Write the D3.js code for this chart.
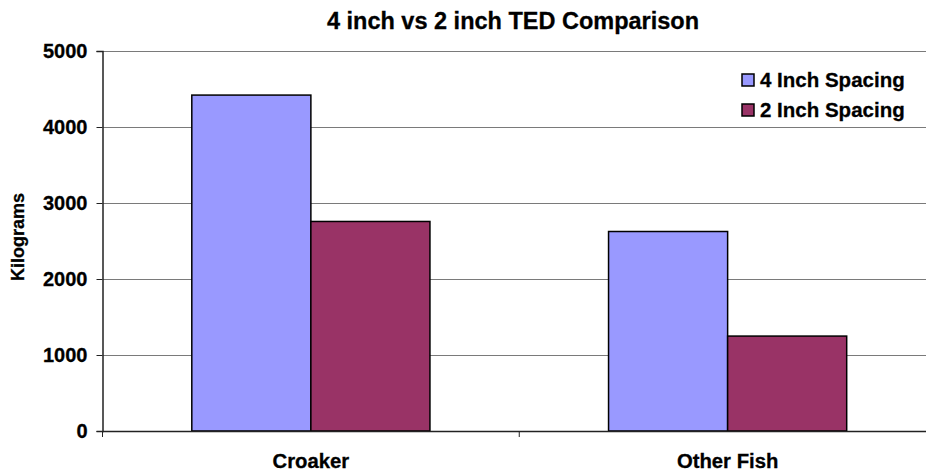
<!DOCTYPE html>
<html>
<head>
<meta charset="utf-8">
<script src="https://cdn.jsdelivr.net/npm/d3@7"></script>
<style>
  body { margin: 0; background: #fff; }
  svg { display: block; font-family: Arial, "Liberation Sans", sans-serif; font-weight: bold; }
  text { stroke: #000; stroke-width: 0.3px; }
</style>
</head>
<body>
<svg id="chart" width="926" height="472"></svg>
<script>
// chart data
const categories = ["Croaker", "Other Fish"];
const seriesNames = ["4 Inch Spacing", "2 Inch Spacing"];
const spacing4 = [4420, 2625];
const spacing2 = [2757, 1249];
const yTicks = [0, 1000, 2000, 3000, 4000, 5000];
const colors = ["#9999FF", "#993366"];

const svg = d3.select("#chart");

// plot area (right edge runs past the picture, like the original)
const plotLeft = 102.5, plotRight = 936, plotTop = 51, plotBottom = 431;

const x = d3.scaleBand().domain(categories).range([plotLeft, plotRight]).padding(0);
const xs = d3.scaleBand().domain(seriesNames).range([0, x.bandwidth()])
    .paddingInner(0).paddingOuter(0.75);
const y = d3.scaleLinear().domain([0, 5000]).range([plotBottom, plotTop]);

// gridlines
svg.append("g")
    .selectAll("line")
    .data(yTicks.filter(d => d > 0))
    .enter().append("line")
    .attr("x1", plotLeft).attr("x2", plotRight)
    .attr("y1", d => y(d)).attr("y2", d => y(d))
    .attr("stroke", "#7a7a7a")
    .attr("stroke-width", 1)
    .attr("shape-rendering", "crispEdges");

// bars
const rows = categories.map((c, i) => ({ cat: c, values: [spacing4[i], spacing2[i]] }));
svg.append("g")
    .selectAll("g")
    .data(rows)
    .enter().append("g")
    .attr("transform", d => `translate(${x(d.cat)},0)`)
    .selectAll("rect")
    .data(d => d.values.map((v, k) => ({ name: seriesNames[k], value: v, k: k })))
    .enter().append("rect")
    .attr("x", d => xs(d.name))
    .attr("width", xs.bandwidth())
    .attr("y", d => y(d.value))
    .attr("height", d => y(0) - y(d.value))
    .attr("fill", d => colors[d.k])
    .attr("stroke", "#000")
    .attr("stroke-width", 1.5);

// y axis
const yAxis = d3.axisLeft(y).tickValues(yTicks).tickSize(6).tickPadding(9).tickFormat(d3.format("d"));
const gy = svg.append("g").attr("transform", `translate(${plotLeft},0)`).call(yAxis);
gy.select(".domain").attr("stroke", "#222").attr("stroke-width", 1.5);
gy.selectAll(".tick line").attr("stroke", "#222");
gy.selectAll(".tick text")
    .attr("font-size", 20)
    .attr("font-family", "Arial, 'Liberation Sans', sans-serif")
    .attr("font-weight", "bold")
    .attr("fill", "#000");

// x axis
const xAxis = d3.axisBottom(x).tickSize(0).tickPadding(0).tickSizeOuter(0);
const gx = svg.append("g").attr("transform", `translate(0,${plotBottom})`).call(xAxis);
gx.select(".domain").attr("stroke", "#222").attr("stroke-width", 1.5);
gx.selectAll(".tick text")
    .attr("y", 37)
    .attr("dy", 0)
    .attr("font-size", 20.3)
    .attr("font-family", "Arial, 'Liberation Sans', sans-serif")
    .attr("font-weight", "bold")
    .attr("fill", "#000");

// category boundary ticks
svg.append("g")
    .selectAll("line")
    .data(categories)
    .enter().append("line")
    .attr("x1", d => x(d)).attr("x2", d => x(d))
    .attr("y1", plotBottom).attr("y2", plotBottom + 6)
    .attr("stroke", "#222")
    .attr("stroke-width", 1);

// title
svg.append("text")
    .attr("x", 513)
    .attr("y", 29)
    .attr("text-anchor", "middle")
    .attr("font-size", 23.5)
    .attr("fill", "#000")
    .text("4 inch vs 2 inch TED Comparison");

// y label
svg.append("text")
    .attr("transform", `translate(24,237) rotate(-90)`)
    .attr("text-anchor", "middle")
    .attr("font-size", 18)
    .attr("fill", "#000")
    .text("Kilograms");

// legend
const legend = svg.append("g")
    .selectAll("g")
    .data(seriesNames)
    .enter().append("g")
    .attr("transform", (d, i) => `translate(742,${74 + i * 30})`);

legend.append("rect")
    .attr("width", 12).attr("height", 12)
    .attr("fill", (d, i) => colors[i])
    .attr("stroke", "#000")
    .style("stroke-width", "1.5px");

legend.append("text")
    .attr("x", 18)
    .attr("y", 12.5)
    .attr("font-size", 20.5)
    .attr("fill", "#000")
    .text(d => d);
</script>
</body>
</html>
